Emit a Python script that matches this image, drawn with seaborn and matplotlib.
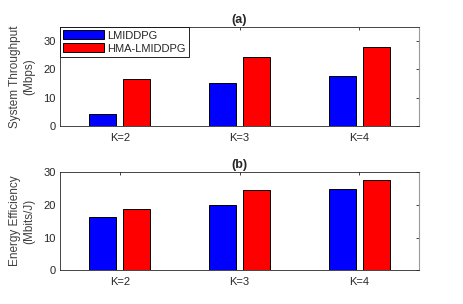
import pandas as pd
import matplotlib
matplotlib.use("Agg")
import matplotlib.pyplot as plt
import seaborn as sns

# values
cases = ["K=2", "K=3", "K=4"]
methods = ["LMIDDPG", "HMA-LMIDDPG"]
throughput_lmiddpg = [4.2, 15.3, 17.8]
throughput_hma = [16.5, 24.5, 27.8]
efficiency_lmiddpg = [16.2, 19.8, 24.9]
efficiency_hma = [18.6, 24.6, 27.7]


def make_frame(a, b):
    rows = []
    for k, va, vb in zip(cases, a, b):
        rows.append({"case": k, "method": methods[0], "value": va})
        rows.append({"case": k, "method": methods[1], "value": vb})
    return pd.DataFrame(rows)


sns.set_style("white")
plt.rcParams["font.family"] = ["Liberation Sans", "DejaVu Sans"]
plt.rcParams["font.size"] = 8

fig = plt.figure(figsize=(4.63, 3.04), dpi=100)
ax1 = fig.add_axes([0.1296, 0.5855, 0.7754, 0.3257])
ax2 = fig.add_axes([0.1296, 0.1109, 0.7754, 0.3234])

palette = {"LMIDDPG": "#0000ff", "HMA-LMIDDPG": "#ff0000"}

panels = [
    (ax1, make_frame(throughput_lmiddpg, throughput_hma), 35,
     "System Throughput\n(Mbps)", "(a)"),
    (ax2, make_frame(efficiency_lmiddpg, efficiency_hma), 30,
     "Energy Efficiency\n(Mbits/J)", "(b)"),
]

for ax, df, ymax, ylab, title in panels:
    sns.barplot(data=df, x="case", y="value", hue="method", hue_order=methods,
                palette=palette, width=0.572, gap=0.21, saturation=1,
                edgecolor="black", linewidth=0.7, ax=ax)
    ax.set_xlim(-0.5, 2.5)
    ax.set_ylim(0, ymax)
    ax.set_yticks([0, 10, 20, 30])
    ax.set_xlabel("")
    ax.set_ylabel(ylab, fontsize=8.5, color="#404040", labelpad=6)
    ax.set_title(title, fontsize=9, fontweight="bold", pad=3)
    ax.tick_params(direction="in", length=2.5, width=0.6, colors="#262626",
                   top=True, right=True, labelsize=8, pad=3)
    ax.tick_params(axis="x", pad=5)
    ax.tick_params(axis="y", which="both", right=True, labelright=False)
    for side in ["left", "bottom", "top"]:
        ax.spines[side].set_color("#262626")
        ax.spines[side].set_linewidth(0.6)
    ax.spines["right"].set_color("#9a9a9a")
    ax.spines["right"].set_linewidth(0.8)

sns.move_legend(ax1, "upper left", title=None, borderaxespad=0, fontsize=8,
                frameon=True, fancybox=False, edgecolor="black",
                framealpha=1, handlelength=3.7, handleheight=0.85,
                handletextpad=0.2, borderpad=0.3, labelspacing=0.25)
ax1.get_legend().get_frame().set_linewidth(0.6)
ax2.get_legend().remove()

fig.savefig("out.png", dpi=100)
